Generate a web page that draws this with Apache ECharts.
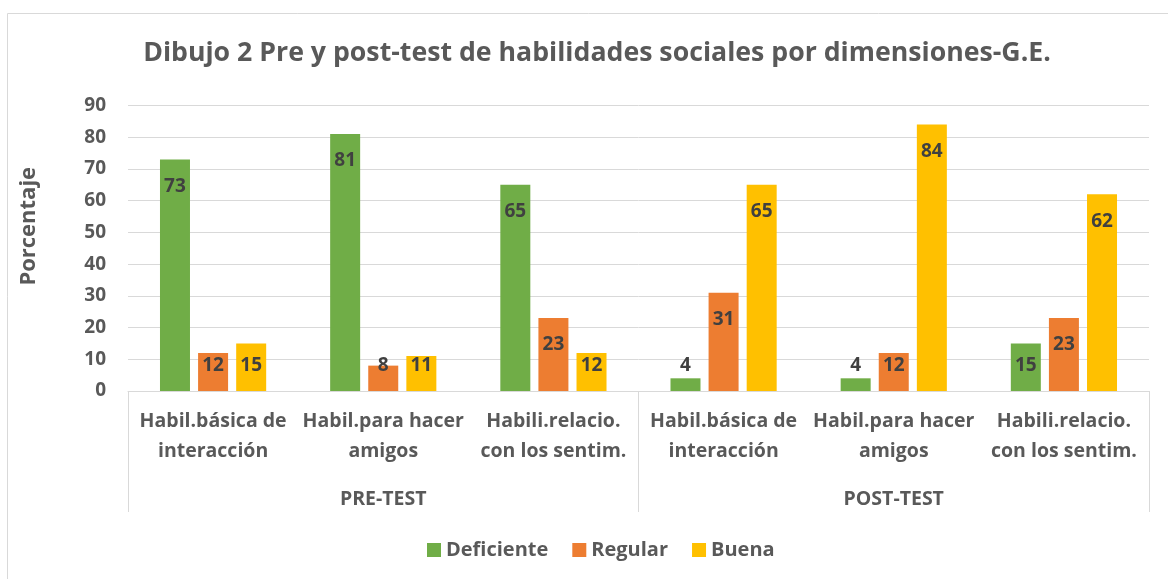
<!DOCTYPE html>
<html>
<head>
<meta charset="utf-8">
<script src="https://cdn.jsdelivr.net/npm/echarts@6/dist/echarts.min.js"></script>
<style>
html,body{margin:0;padding:0;background:#fff;}
#chart{width:1168px;height:579px;}
</style>
</head>
<body>
<div id="chart"></div>
<script>
const titleText = 'Dibujo 2 Pre y post-test de habilidades sociales por dimensiones-G.E.';
const categories = [
  'Habil.básica de\ninteracción', 'Habil.para hacer\namigos', 'Habili.relacio.\ncon los sentim.',
  'Habil.básica de\ninteracción', 'Habil.para hacer\namigos', 'Habili.relacio.\ncon los sentim.'
];
const groups = ['PRE-TEST', 'POST-TEST'];
const seriesNames = ['Deficiente', 'Regular', 'Buena'];
const deficiente = [73, 81, 65, 4, 4, 15];
const regular = [12, 8, 23, 31, 12, 23];
const buena = [15, 11, 12, 65, 84, 62];
const yTicks = { min: 0, max: 90, interval: 10 };
const yTitle = 'Porcentaje';

const colors = ['#70AD47', '#ED7D31', '#FFC000'];
const FONT = 'Open Sans';
const TXT = '#595959';
const LINE = '#d9d9d9';

function makeData(arr) {
  return arr.map(v => v <= 16
    ? { value: v, label: { position: 'insideBottom', distance: 15.5 } }
    : { value: v });
}

const chart = echarts.init(document.getElementById('chart'), null, { renderer: 'canvas' });
const allSeries = [deficiente, regular, buena].map((arr, i) => ({
  name: seriesNames[i],
  type: 'bar',
  xAxisIndex: 0,
  barWidth: 30,
  barGap: '27%',
  itemStyle: { color: colors[i] },
  label: {
    show: true,
    position: 'insideTop',
    distance: 17.5,
    fontFamily: FONT,
    fontWeight: 'bold',
    fontSize: 19,
    lineHeight: 19,
    color: '#404040'
  },
  data: makeData(arr)
}));

chart.setOption({
  animation: false,
  textStyle: { fontFamily: FONT },
  graphic: [{
    type: 'rect',
    shape: { x: 7.5, y: 13.5, width: 1300, height: 700 },
    style: { fill: 'none', stroke: LINE, lineWidth: 1 },
    silent: true
  }],
  title: {
    text: titleText,
    left: 592,
    top: 35,
    textAlign: 'center',
    textStyle: { fontFamily: FONT, fontWeight: 'bold', fontSize: 26.7, color: TXT }
  },
  legend: {
    data: seriesNames,
    left: 427,
    top: 540,
    padding: 0,
    icon: 'rect',
    itemWidth: 14,
    itemHeight: 14,
    itemGap: 24,
    textStyle: { fontFamily: FONT, fontWeight: 'bold', fontSize: 20, color: TXT }
  },
  grid: { left: 128, right: 19, top: 105.5, bottom: 188, containLabel: false },
  xAxis: [{
    type: 'category',
    data: categories,
    position: 'bottom',
    axisLine: { show: true, lineStyle: { color: LINE, width: 1 } },
    axisTick: { show: false },
    axisLabel: {
      interval: 0,
      margin: 15,
      fontFamily: FONT,
      fontWeight: 'bold',
      fontSize: 19.5,
      lineHeight: 30,
      color: TXT
    }
  }, {
    type: 'category',
    data: groups,
    position: 'bottom',
    offset: 0,
    axisLine: { show: false },
    axisTick: { show: true, length: 121, interval: 0, lineStyle: { color: LINE, width: 1 } },
    axisLabel: {
      interval: 0,
      margin: 98.5,
      fontFamily: FONT,
      fontWeight: 'bold',
      fontSize: 19.5,
      lineHeight: 19,
      color: TXT
    }
  }],
  yAxis: {
    type: 'value',
    min: yTicks.min,
    max: yTicks.max,
    interval: yTicks.interval,
    name: yTitle,
    nameLocation: 'middle',
    nameGap: 88,
    nameRotate: 90,
    nameTextStyle: { fontFamily: FONT, fontWeight: 'bold', fontSize: 22, color: TXT, padding: [0, 0, 0, 44] },
    axisLine: { show: false },
    axisTick: { show: false },
    axisLabel: { margin: 22, fontFamily: FONT, fontWeight: 'bold', fontSize: 19, color: TXT },
    splitLine: { lineStyle: { color: LINE, width: 1 } }
  },
  series: allSeries
});
</script>
</body>
</html>
